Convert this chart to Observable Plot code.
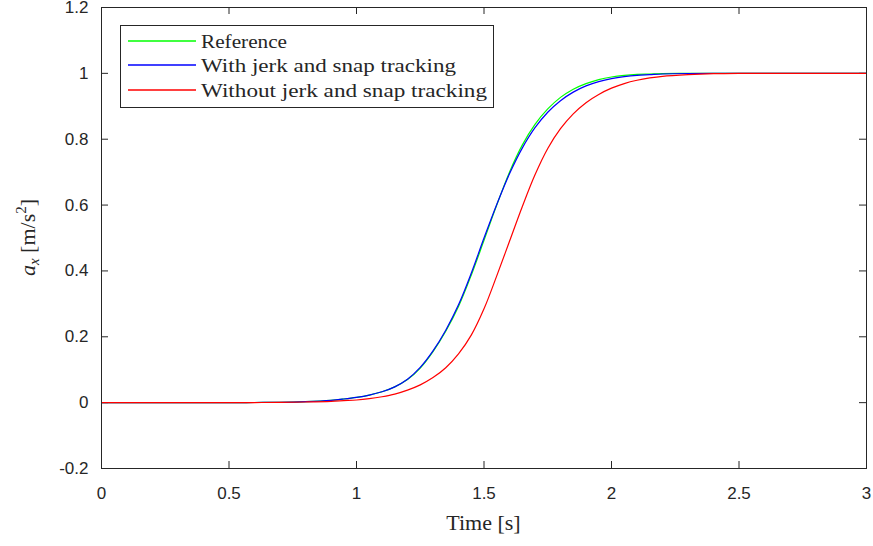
<!DOCTYPE html>
<html>
<head>
<meta charset="utf-8">
<script src="https://cdn.jsdelivr.net/npm/d3@7"></script>
<script src="https://cdn.jsdelivr.net/npm/@observablehq/plot@0.6"></script>
<style>
  html, body { margin: 0; padding: 0; background: #fff; }
  #wrap { position: relative; width: 873px; height: 546px; }
</style>
</head>
<body>
<div id="wrap"></div>
<script>
// ---- data ----
const time = [0, 0.3, 0.5, 0.6, 0.7, 0.8, 0.9, 0.95, 1.0, 1.05, 1.1, 1.15, 1.2, 1.25, 1.3, 1.35, 1.4, 1.45, 1.5, 1.55, 1.6, 1.65, 1.7, 1.75, 1.8, 1.85, 1.9, 1.95, 2.0, 2.05, 2.1, 2.15, 2.2, 2.3, 2.4, 2.5, 2.75, 3.0];
const reference   = [0, 0, 0, 0.0005, 0.001, 0.003, 0.007, 0.011, 0.016, 0.023, 0.033, 0.048, 0.07, 0.105, 0.155, 0.217, 0.292, 0.387, 0.493, 0.60, 0.70, 0.782, 0.845, 0.892, 0.927, 0.952, 0.969, 0.981, 0.989, 0.994, 0.997, 0.998, 0.999, 1, 1, 1, 1, 1];
const withJerk    = [0, 0, 0, 0.0005, 0.001, 0.003, 0.007, 0.011, 0.016, 0.023, 0.033, 0.048, 0.071, 0.107, 0.157, 0.22, 0.297, 0.393, 0.50, 0.602, 0.695, 0.773, 0.835, 0.882, 0.917, 0.943, 0.962, 0.975, 0.984, 0.99, 0.994, 0.996, 0.998, 0.9995, 1, 1, 1, 1];
const withoutJerk = [0, 0, 0, 0.0003, 0.0007, 0.002, 0.004, 0.006, 0.008, 0.012, 0.018, 0.026, 0.038, 0.054, 0.076, 0.106, 0.148, 0.205, 0.285, 0.385, 0.49, 0.595, 0.692, 0.772, 0.832, 0.877, 0.911, 0.936, 0.955, 0.969, 0.979, 0.986, 0.991, 0.996, 0.999, 1, 1, 1];
const seriesNames = ["Reference", "With jerk and snap tracking", "Without jerk and snap tracking"];
const seriesColors = ["#00ff00", "#0000ff", "#ff0000"];
const xTicks = [0, 0.5, 1, 1.5, 2, 2.5, 3];
const yTicks = [-0.2, 0, 0.2, 0.4, 0.6, 0.8, 1, 1.2];
const xLabel = "Time [s]";

const seriesValues = [reference, withJerk, withoutJerk];
const rows = [];
seriesValues.forEach((vals, si) => vals.forEach((v, i) => rows.push({series: seriesNames[si], t: time[i], v})));

const axisColor = "#262626";
const W = 873, H = 546;
const mL = 101, mR = 7, mT = 7, mB = 78;
const xTickLen = 7 * (1.4 / (H - mT - mB));   // inward tick length in y units
const yTickLen = 7 * (3 / (W - mL - mR));     // inward tick length in x units

const fmt = d => String(Math.round(d * 10) / 10);

const plot = Plot.plot({
  width: W, height: H,
  marginLeft: mL, marginRight: mR, marginTop: mT, marginBottom: mB,
  style: {fontFamily: "'Liberation Sans', Arial, sans-serif", fontSize: "17px", color: axisColor, background: "#fff", overflow: "visible"},
  x: {domain: [0, 3], ticks: xTicks, label: null},
  y: {domain: [-0.2, 1.2], ticks: yTicks, label: null},
  marks: [
    Plot.axisX({ticks: xTicks, tickSize: 0, tickPadding: 18, tickFormat: fmt, label: null, fontSize: 17, fill: axisColor}),
    Plot.axisY({ticks: yTicks, tickSize: 0, tickPadding: 13, tickFormat: fmt, label: null, fontSize: 17, fill: axisColor}),
    // inward ticks on all four sides
    Plot.ruleX(xTicks.slice(1, -1), {x: d => d, y1: -0.2, y2: -0.2 + xTickLen, stroke: axisColor, strokeWidth: 1}),
    Plot.ruleX(xTicks.slice(1, -1), {x: d => d, y1: 1.2, y2: 1.2 - xTickLen, stroke: axisColor, strokeWidth: 1}),
    Plot.ruleY(yTicks.slice(1, -1), {y: d => d, x1: 0, x2: yTickLen, stroke: axisColor, strokeWidth: 1}),
    Plot.ruleY(yTicks.slice(1, -1), {y: d => d, x1: 3, x2: 3 - yTickLen, stroke: axisColor, strokeWidth: 1}),
    Plot.line(rows, {x: "t", y: "v", z: "series", stroke: d => seriesColors[seriesNames.indexOf(d.series)], strokeWidth: 1.2, curve: "catmull-rom"}),
    Plot.frame({stroke: axisColor, strokeWidth: 1})
  ]
});

document.getElementById("wrap").appendChild(plot);

const svg = d3.select(plot);
const serif = "'Liberation Serif', 'DejaVu Serif', serif";

// x label
svg.append("text")
  .attr("x", (mL + (W - mR)) / 2).attr("y", 530)
  .attr("text-anchor", "middle")
  .attr("font-family", serif).attr("font-size", 22).attr("fill", axisColor)
  .text(xLabel);

// y label: a_x [m/s^2]
const yl = svg.append("text")
  .attr("transform", `translate(35,${(mT + H - mB) / 2}) rotate(-90)`)
  .attr("text-anchor", "middle")
  .attr("font-family", serif).attr("font-size", 22).attr("fill", axisColor);
yl.append("tspan").attr("font-style", "italic").text("a");
yl.append("tspan").attr("font-style", "italic").attr("font-size", 15).attr("dy", 4).text("x");
yl.append("tspan").attr("dy", -4).text(" [m/s");
yl.append("tspan").attr("font-size", 15).attr("dy", -9).text("2");
yl.append("tspan").attr("dy", 9).text("]");

// legend
const lg = svg.append("g").attr("transform", "translate(120,25)");
lg.append("rect").attr("x", 0.5).attr("y", 0.5).attr("width", 373).attr("height", 82)
  .attr("fill", "#fff").attr("stroke", axisColor).attr("stroke-width", 1);
const legendWidths = [86, 255, 286];
const legendRows = [16, 40, 65];
seriesNames.forEach((name, i) => {
  const cy = legendRows[i];
  lg.append("line").attr("x1", 8).attr("x2", 76).attr("y1", cy).attr("y2", cy)
    .attr("stroke", seriesColors[i]).attr("stroke-width", 1.3);
  lg.append("text").attr("x", 81).attr("y", cy + 6.5)
    .attr("text-anchor", "start")
    .attr("font-family", serif).attr("font-size", 19).attr("fill", axisColor)
    .attr("textLength", legendWidths[i]).attr("lengthAdjust", "spacingAndGlyphs")
    .text(name);
});
</script>
</body>
</html>
